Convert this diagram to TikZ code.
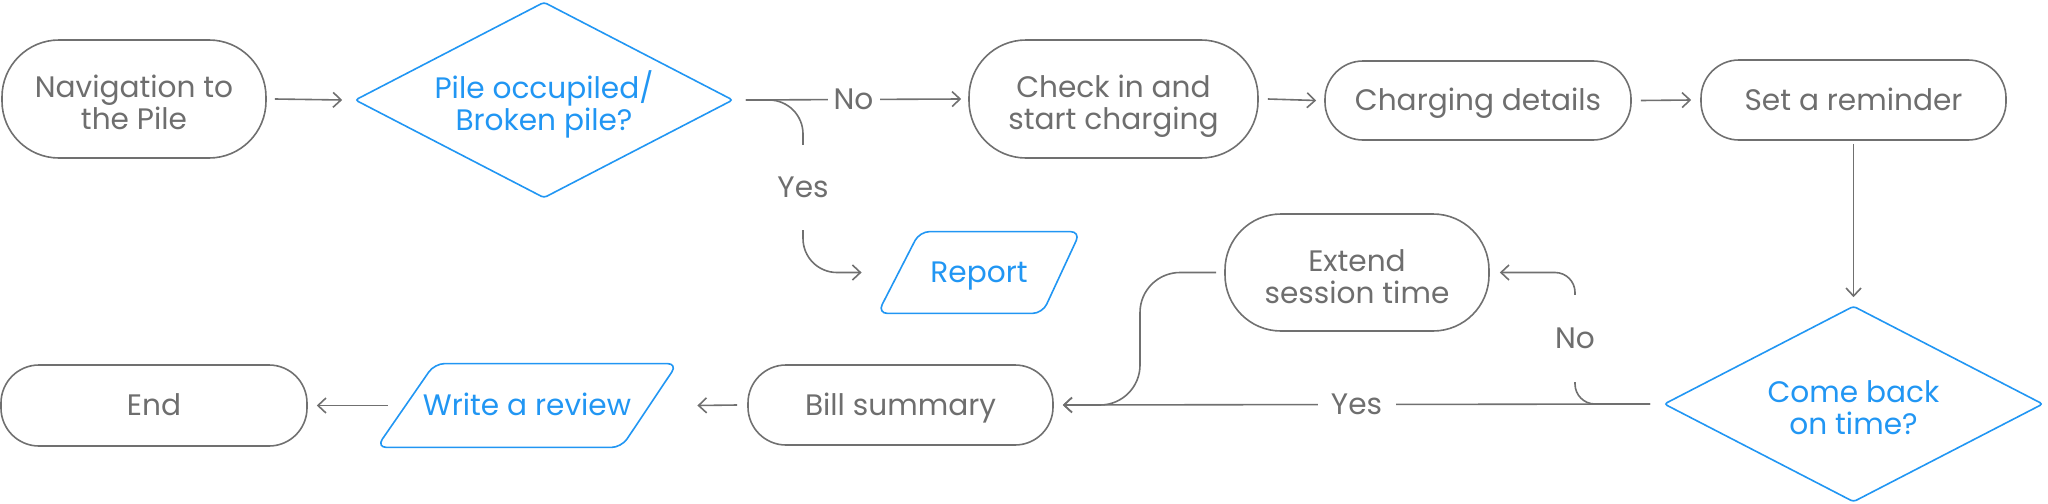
\documentclass[tikz,border=0pt]{standalone}
\usepackage{fontspec}
\setmainfont{Poppins}
\usetikzlibrary{arrows.meta,shapes.geometric,calc}
\definecolor{ltext}{HTML}{6E6E6E}
\definecolor{lline}{HTML}{707070}
\definecolor{lblue}{HTML}{2196F3}
\newcommand{\txstrut}{\vrule height 14.9pt depth 4.5pt width 0pt\relax}
\newcommand{\tallstrut}{\vrule height 19pt depth 0pt width 0pt\relax}
\newcommand{\txfont}{\fontsize{14.8}{16}\selectfont\lineskiplimit=-100pt\relax}
\begin{document}
\begin{tikzpicture}[x=0.5pt,y=-0.5pt,
  txt/.style={font=\txfont, align=center,
    execute at begin node=\txstrut, execute at end node=\txstrut},
  pill/.style={txt, draw=lline, line width=0.8pt, text=ltext, rectangle, inner sep=0pt},
  decis/.style={txt, draw=lblue, line width=0.8pt, text=lblue, diamond, aspect=1.93, inner sep=0pt, rounded corners=1.5pt},
  iobox/.style={txt, text=lblue, rectangle, inner sep=0pt},
  ioline/.style={draw=lblue, line width=0.8pt, rounded corners=5pt},
  conn/.style={draw=lline, line width=0.8pt},
  arr/.style={conn, -{Straight Barb[length=4pt,width=7.5pt]}},
  lbl/.style={txt, text=ltext, fill=white, inner sep=0pt}
]
\useasboundingbox (0,0) rectangle (2048,503);

% nodes
\node[pill, minimum width=132pt, minimum height=59pt, rounded corners=28.5pt] (nav) at (134,99) {\tallstrut Navigation to\\the Pile};
\node[decis, minimum width=189pt, minimum height=98pt] (d1) at (544,100) {\tallstrut Pile occupiled/\\Broken pile?};
\node[pill, minimum width=144.5pt, minimum height=59pt, rounded corners=28.5pt] (checkin) at (1113.5,99) {\tallstrut Check in and\\start charging};
\node[pill, minimum width=153pt, minimum height=39.5pt, rounded corners=19pt] (charging) at (1478,100.5) {Charging details};
\node[pill, minimum width=152.5pt, minimum height=40pt, rounded corners=19pt] (reminder) at (1853.5,100) {Set a reminder};
\node[decis, minimum width=189.5pt, minimum height=98pt] (d2) at (1853.5,404) {\tallstrut Come back\\on time?};
\node[pill, minimum width=132pt, minimum height=58.5pt, rounded corners=28pt] (extend) at (1357,272.5) {\tallstrut Extend\\session time};
\node[iobox, minimum width=101pt, minimum height=40.5pt] (report) at (979,272.5) {Report};
\node[pill, minimum width=152.5pt, minimum height=40pt, rounded corners=19pt] (bill) at (900.5,405) {Bill summary};
\node[iobox, minimum width=150pt, minimum height=41.5pt] (write) at (527,405.5) {Write a review};
\node[pill, minimum width=153pt, minimum height=40.5pt, rounded corners=19pt] (end) at (154,405.5) {End};

% parallelogram outlines
\draw[ioline] (report.south west) -- ([xshift=21pt]report.north west) -- (report.north east) -- ([xshift=-19pt]report.south east) -- cycle;
\draw[ioline] (write.south west) -- ([xshift=29pt]write.north west) -- (write.north east) -- ([xshift=-28pt]write.south east) -- cycle;

% label anchors
\coordinate (ylabpos) at (803,187);
\coordinate (nolabpos) at (1575,338);
\coordinate (ebc) at (1140,340);

% connectors
\draw[arr] ([xshift=4pt]nav.east) -- ([xshift=-6pt]d1.west);
\draw[arr, rounded corners=17pt] ([xshift=6pt]d1.east) -| (ylabpos) |- ([xshift=-8pt]report.west);
\draw[arr] ([xshift=6pt]d1.east) -- node[lbl, minimum width=26pt, minimum height=18pt] (nolab1) {No} ([xshift=-3.5pt]checkin.west);
\node[lbl, minimum height=42.5pt, minimum width=24pt] (yeslab1) at (ylabpos) {Yes};
\draw[arr] ([xshift=4.5pt]checkin.east) -- ([xshift=-4pt]charging.west);
\draw[arr] ([xshift=4.5pt]charging.east) -- ([xshift=-4.5pt]reminder.west);
\draw[arr] ([yshift=-1.5pt]reminder.south) -- ([yshift=4pt]d2.north);
\draw[arr, rounded corners=10pt] ([xshift=-6.5pt]d2.west) -| (nolabpos) |- ([xshift=5pt]extend.east);
\node[lbl, minimum height=43.5pt, minimum width=20pt] (nolab2) at (nolabpos) {No};
\draw[arr] ([xshift=-6.5pt]d2.west) -- node[lbl, minimum width=39pt, minimum height=18pt] (yeslab2) {Yes} ([xshift=4.5pt]bill.east);
\draw[arr, rounded corners=20pt] ([xshift=-4pt]extend.west) -- (ebc |- extend.west) -- (ebc |- bill.east) -- ([xshift=4.5pt]bill.east);
\draw[arr] ([xshift=-5pt]bill.west) -- ([xshift=10pt]write.east);
\draw[arr] ([xshift=5.5pt]write.west) -- ([xshift=4.5pt]end.east);
\end{tikzpicture}
\end{document}
